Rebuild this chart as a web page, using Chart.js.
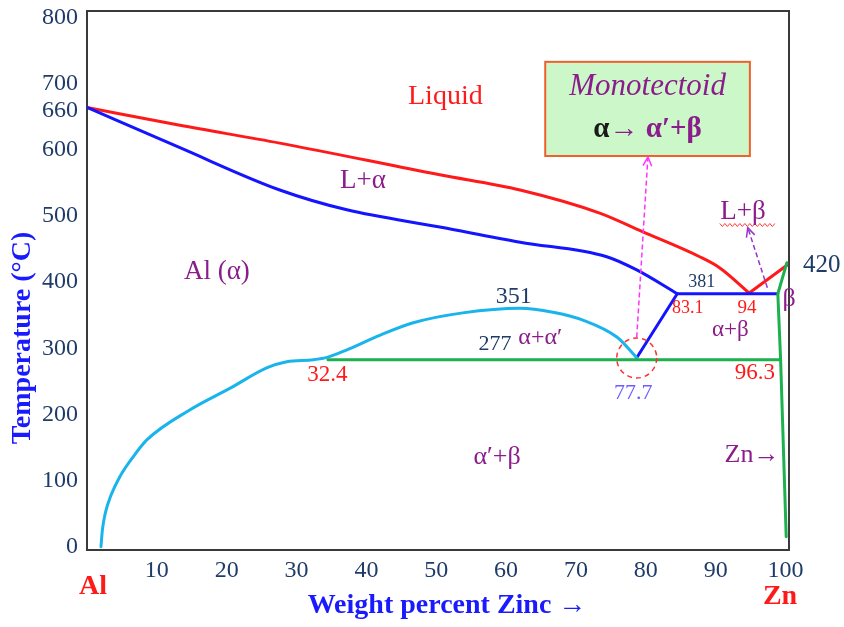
<!DOCTYPE html>
<html>
<head>
<meta charset="utf-8">
<script src="https://cdn.jsdelivr.net/npm/chart.js@4.4.1/dist/chart.umd.min.js"></script>
<style>
  html, body { margin: 0; padding: 0; background: #fff; }
  #wrap { width: 844px; height: 627px; }
</style>
</head>
<body>
<div id="wrap"><canvas id="phase" width="844" height="627"></canvas></div>
<script>
// --- Al-Zn phase diagram data (weight % Zn, temperature in °C) ---
const xTicks = [10, 20, 30, 40, 50, 60, 70, 80, 90, 100];
const yTicks = [0, 100, 200, 300, 400, 500, 600, 660, 700, 800];

// liquidus (red)
const liquidusX = [0, 13.3, 27.6, 50.5, 62.0, 73.4, 79.5, 87.7, 90.6, 94.8];
const liquidusT = [660, 633, 606, 558, 535, 500, 472, 434, 417, 379];
const liquidusZnX = [94.8, 100.2];
const liquidusZnT = [379, 421];

// solidus (blue)
const solidusX = [0, 13.3, 27.6, 37.2, 50.5, 62.0, 74.4, 78.7, 84.5];
const solidusT = [660, 599, 535, 505, 479, 456, 434, 414, 378];
const eutecticX = [78.7, 84.5, 98.9];
const eutecticT = [281, 378, 378];

// alpha solvus / miscibility gap (cyan)
const solvusX = [2.0, 2.2, 2.6, 3.4, 4.7, 6.6, 8.6, 14.7, 20.5, 25.8, 28.6, 32.4, 34.5, 37.2, 41.9, 46.7, 53.8, 62.0, 66.7, 71.0, 75.9, 78.7];
const solvusT = [-5, 20, 45, 72, 101, 131, 157, 202, 235, 266, 275, 278, 282, 293, 315, 334, 349, 356, 350, 338, 312, 281];

// monotectoid line and Zn-side solvus (green)
const monotectoidX = [34.5, 99.3];
const monotectoidT = [278, 278];
const znSolvusX = [100.2, 98.9, 99.3, 100.1];
const znSolvusT = [425, 378, 278, 10];

const RED = '#ff1a1a';
const BLUE = '#1414ff';
const CYAN = '#19b4ec';
const GREEN = '#1db04f';
const PURPLE = '#8b1c8b';
const NAVY = '#1f3c68';
const SERIF = '"Liberation Serif", "Times New Roman", serif';

function series(xs, ys, color, curved) {
    return {
        data: xs.map((x, i) => ({ x: x, y: ys[i] })),
        borderColor: color,
        borderWidth: 3,
        pointRadius: 0,
        fill: false,
        tension: curved ? 0.4 : 0,
        cubicInterpolationMode: curved ? 'monotone' : 'default',
        borderCapStyle: 'round',
        borderJoinStyle: 'round'
    };
}

// text labels placed in data units
const notes = [
    { text: 'Liquid', x: 51.3, y: 676, color: RED, size: 28 },
    { text: 'L+α', x: 39.5, y: 549, color: PURPLE, size: 27 },
    { text: 'Al (α)', x: 18.6, y: 411, color: PURPLE, size: 27 },
    { text: '351', x: 61.1, y: 373, color: NAVY, size: 24 },
    { text: '277', x: 58.4, y: 302, color: NAVY, size: 22 },
    { text: 'α+α′', x: 64.9, y: 311, color: PURPLE, size: 24 },
    { text: '32.4', x: 34.4, y: 255, color: RED, size: 23 },
    { text: 'α′+β', x: 58.7, y: 131, color: PURPLE, size: 26 },
    { text: '381', x: 88.0, y: 396, color: NAVY, size: 18 },
    { text: '83.1', x: 86.0, y: 356, color: RED, size: 18 },
    { text: '94', x: 94.5, y: 356, color: RED, size: 19 },
    { text: 'α+β', x: 92.1, y: 323, color: PURPLE, size: 23 },
    { text: 'β', x: 100.5, y: 369, color: PURPLE, size: 26 },
    { text: '420', x: 105.2, y: 421, color: NAVY, size: 25 },
    { text: '77.7', x: 78.2, y: 228, color: '#6f5cff', size: 22 },
    { text: '96.3', x: 95.6, y: 258, color: RED, size: 23 },
    { text: 'Zn→', x: 95.2, y: 134, color: PURPLE, size: 26 },
    { text: 'L+β', x: 93.9, y: 502, color: PURPLE, size: 27 }
];

function dashedArrow(ctx, x1, y1, x2, y2, color) {
    ctx.save();
    ctx.strokeStyle = color;
    ctx.lineWidth = 1.5;
    ctx.setLineDash([5, 3]);
    ctx.beginPath();
    ctx.moveTo(x1, y1);
    ctx.lineTo(x2, y2);
    ctx.stroke();
    ctx.setLineDash([]);
    const a = Math.atan2(y2 - y1, x2 - x1);
    const h = 10;
    ctx.beginPath();
    ctx.moveTo(x2 - h * Math.cos(a - 0.45), y2 - h * Math.sin(a - 0.45));
    ctx.lineTo(x2, y2);
    ctx.lineTo(x2 - h * Math.cos(a + 0.45), y2 - h * Math.sin(a + 0.45));
    ctx.stroke();
    ctx.restore();
}

const framePlugin = {
    id: 'frame',
    beforeDatasetsDraw(chart) {
        const { ctx, chartArea: a } = chart;
        ctx.save();
        ctx.strokeStyle = '#3a3a3a';
        ctx.lineWidth = 2;
        ctx.strokeRect(a.left, a.top, a.right - a.left, a.bottom - a.top);
        ctx.restore();
    }
};

const notesPlugin = {
    id: 'notes',
    afterDatasetsDraw(chart) {
        const ctx = chart.ctx;
        const xs = chart.scales.x;
        const ys = chart.scales.y;
        const px = v => xs.getPixelForValue(v);
        const py = v => ys.getPixelForValue(v);
        ctx.save();

        // monotectoid box
        const bx1 = px(65.6), bx2 = px(94.9), by1 = py(729), by2 = py(586.5);
        ctx.fillStyle = '#ccf7c8';
        ctx.fillRect(bx1, by1, bx2 - bx1, by2 - by1);
        ctx.strokeStyle = '#f0602a';
        ctx.lineWidth = 2;
        ctx.strokeRect(bx1, by1, bx2 - bx1, by2 - by1);
        const bcx = (bx1 + bx2) / 2;
        ctx.textAlign = 'center';
        ctx.textBaseline = 'middle';
        ctx.fillStyle = PURPLE;
        ctx.font = 'italic 31px ' + SERIF;
        ctx.fillText('Monotectoid', bcx, py(691));
        // second line: "α→ α′+β"
        ctx.font = 'bold 29px ' + SERIF;
        const p1 = 'α', p2 = '→ α′+β';
        const w1 = ctx.measureText(p1).width, w2 = ctx.measureText(p2).width;
        const sx = bcx - (w1 + w2) / 2;
        ctx.textAlign = 'left';
        ctx.fillStyle = '#1a1a1a';
        ctx.fillText(p1, sx, py(626));
        ctx.fillStyle = PURPLE;
        ctx.fillText(p2, sx + w1, py(626));

        // dashed circle at the monotectoid point
        ctx.strokeStyle = '#ff3030';
        ctx.lineWidth = 1.5;
        ctx.setLineDash([5, 4]);
        ctx.beginPath();
        ctx.arc(px(78.7), py(280.6), 20, 0, Math.PI * 2);
        ctx.stroke();
        ctx.setLineDash([]);

        dashedArrow(ctx, px(78.7), py(312), px(80.3), py(585), '#ff33ff');
        dashedArrow(ctx, px(97.4), py(387), px(94.6), py(478), '#9933cc');

        // wavy underline beneath L+β
        ctx.strokeStyle = '#ff3b3b';
        ctx.lineWidth = 1;
        ctx.beginPath();
        const wx1 = px(90.6), wx2 = px(98.5), wy = py(482);
        for (let x = wx1, k = 0; x <= wx2; x += 2.5, k++) {
            const y = wy + (k % 2 === 0 ? -1.5 : 1.5);
            if (k === 0) ctx.moveTo(x, y); else ctx.lineTo(x, y);
        }
        ctx.stroke();

        // region / point labels
        ctx.textAlign = 'center';
        ctx.textBaseline = 'middle';
        notes.forEach(n => {
            ctx.font = n.size + 'px ' + SERIF;
            ctx.fillStyle = n.color;
            ctx.fillText(n.text, px(n.x), py(n.y));
        });
        ctx.restore();
    },
    afterDraw(chart) {
        const ctx = chart.ctx;
        ctx.save();
        ctx.textAlign = 'center';
        ctx.textBaseline = 'middle';
        ctx.font = 'bold 28px ' + SERIF;
        ctx.fillStyle = '#1a1aff';
        ctx.fillText('Weight percent Zinc →', 447, 606);
        ctx.save();
        ctx.translate(23, 338);
        ctx.rotate(-Math.PI / 2);
        ctx.fillText('Temperature (°C)', 0, 0);
        ctx.restore();
        ctx.fillStyle = '#ff1a1a';
        ctx.fillText('Al', 93, 587);
        ctx.fillText('Zn', 780, 597);
        ctx.restore();
    }
};

const ctx = document.getElementById('phase').getContext('2d');
new Chart(ctx, {
    type: 'line',
    data: {
        datasets: [
            series(monotectoidX, monotectoidT, GREEN, false),
            series(znSolvusX, znSolvusT, GREEN, false),
            series(solvusX, solvusT, CYAN, true),
            series(solidusX, solidusT, BLUE, true),
            series(eutecticX, eutecticT, BLUE, false),
            series(liquidusX, liquidusT, RED, true),
            series(liquidusZnX, liquidusZnT, RED, false)
        ]
    },
    options: {
        responsive: false,
        animation: false,
        devicePixelRatio: 1,
        layout: { padding: { top: 11, right: 55, bottom: 0, left: 0 } },
        plugins: {
            legend: { display: false },
            tooltip: { enabled: false }
        },
        scales: {
            x: {
                type: 'linear',
                min: 0,
                max: 100.5,
                grid: { display: false, drawTicks: false },
                border: { display: false },
                afterBuildTicks: s => { s.ticks = xTicks.map(v => ({ value: v })); },
                afterFit: s => {
                    s.height = 77;
                    s.paddingLeft = 0;
                    s.paddingRight = 0;
                },
                ticks: {
                    autoSkip: false,
                    maxRotation: 0,
                    padding: 6,
                    color: NAVY,
                    font: { family: SERIF, size: 24 }
                }
            },
            y: {
                type: 'linear',
                min: -10,
                max: 806,
                grid: { display: false, drawTicks: false },
                border: { display: false },
                afterBuildTicks: s => { s.ticks = yTicks.map(v => ({ value: v })); },
                afterFit: s => {
                    s.width = 87;
                    s.paddingTop = 0;
                    s.paddingBottom = 0;
                },
                ticks: {
                    autoSkip: false,
                    padding: 9,
                    labelOffset: 3,
                    color: NAVY,
                    font: { family: SERIF, size: 24 }
                }
            }
        }
    },
    plugins: [framePlugin, notesPlugin]
});
</script>
</body>
</html>
